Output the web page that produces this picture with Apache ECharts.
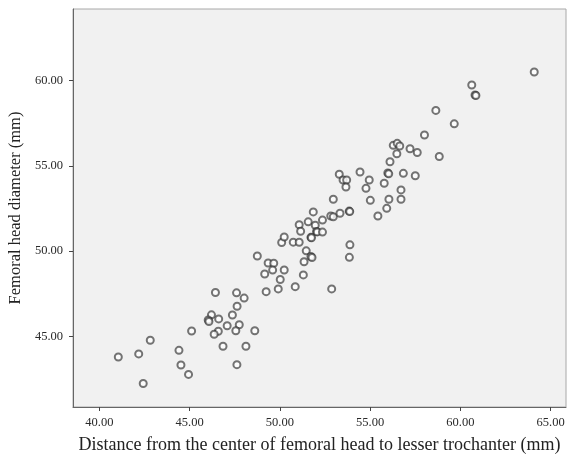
<!DOCTYPE html>
<html>
<head>
<meta charset="utf-8">
<script src="https://cdn.jsdelivr.net/npm/echarts@6/dist/echarts.min.js"></script>
<style>
html,body{margin:0;padding:0;background:#fff;}
#c{width:568px;height:457px;}
</style>
</head>
<body>
<div id="c"></div>
<script>
const xTickValues = [40, 45, 50, 55, 60, 65];
const yTickValues = [45, 50, 55, 60];

const distanceMm = [
  41.05, 42.18, 42.82, 42.43, 44.41, 44.52, 44.94, 45.11, 46.43, 47.60,
  48.02, 47.63, 47.37, 46.21, 46.03, 46.07, 46.61, 47.08, 47.75, 47.56,
  48.61, 46.59, 46.36, 46.85, 48.12, 47.62, 48.75, 49.35, 49.66, 49.60,
  50.24, 49.16, 50.02, 49.91, 49.24, 50.85, 51.30, 52.87, 50.10, 50.24,
  50.74, 51.07, 51.46, 51.72, 51.78, 51.34, 51.07, 51.57, 51.96, 51.15,
  52.03, 52.07, 52.36, 51.72, 51.75, 52.36, 51.85, 52.82, 52.96, 53.33,
  53.84, 53.87, 53.88, 53.85, 52.96, 53.29, 53.50, 53.70, 53.66, 54.44,
  54.95, 54.77, 55.01, 55.43, 55.92, 56.04, 56.71, 56.71, 55.78, 55.98,
  56.03, 56.84, 57.50, 56.10, 56.48, 56.28, 56.50, 56.64, 57.21, 57.61,
  58.83, 58.01, 59.66, 58.64, 60.63, 60.81, 60.86, 64.09
];
const headDiameterMm = [
  43.80, 43.98, 44.78, 42.25, 44.19, 43.33, 42.78, 45.32, 47.58, 47.56,
  47.25, 46.77, 46.26, 46.27, 45.97, 45.88, 46.03, 45.63, 45.69, 45.34,
  45.34, 45.31, 45.13, 44.43, 44.43, 43.35, 49.72, 49.31, 49.29, 48.89,
  48.90, 48.66, 48.34, 47.79, 47.63, 47.92, 48.61, 47.79, 50.51, 50.83,
  50.53, 50.52, 50.02, 49.69, 49.63, 49.38, 51.55, 51.72, 51.52, 51.17,
  51.15, 51.13, 51.12, 50.81, 50.79, 51.82, 52.30, 52.06, 52.02, 52.22,
  52.35, 52.32, 50.37, 49.64, 53.04, 54.51, 54.17, 54.17, 53.76, 54.64,
  54.17, 53.68, 52.98, 52.06, 52.51, 53.04, 53.04, 53.59, 53.98, 54.58,
  54.53, 54.56, 54.42, 55.24, 55.71, 56.20, 56.32, 56.16, 56.00, 55.78,
  55.55, 56.81, 57.46, 58.25, 59.74, 59.15, 59.12, 60.50
];

const points = distanceMm.map((x, i) => [x, headDiameterMm[i]]);

const font = '"Liberation Serif", "DejaVu Serif", serif';
const chart = echarts.init(document.getElementById('c'), null, {renderer: 'canvas'});
chart.setOption({
  animation: false,
  backgroundColor: '#ffffff',
  grid: {
    left: 73, right: 2, top: 9, bottom: 50,
    outerBoundsMode: 'none',
    containLabel: false,
    show: true, backgroundColor: '#f1f1f1', borderColor: '#a8a8a8', borderWidth: 1
  },
  xAxis: {
    type: 'value',
    min: 38.54, max: 65.85,
    name: 'Distance from the center of femoral head to lesser trochanter (mm)',
    nameLocation: 'middle', nameGap: 29,
    nameTextStyle: {fontFamily: font, fontSize: 18, color: '#222'},
    axisLine: {show: true, lineStyle: {color: '#666', width: 1}},
    axisTick: {show: true, length: 4, lineStyle: {color: '#444'}, customValues: xTickValues},
    axisLabel: {
      fontFamily: font, fontSize: 12.5, color: '#2a2a2a', margin: 9,
      customValues: xTickValues,
      formatter: v => v.toFixed(2)
    },
    splitLine: {show: false}
  },
  yAxis: {
    type: 'value',
    min: 40.87, max: 64.19,
    name: 'Femoral head diameter (mm)',
    nameLocation: 'middle', nameGap: 48,
    nameTextStyle: {fontFamily: font, fontSize: 16.5, color: '#222'},
    axisLine: {show: true, lineStyle: {color: '#666', width: 1}},
    axisTick: {show: true, length: 4, lineStyle: {color: '#444'}, customValues: yTickValues},
    axisLabel: {
      fontFamily: font, fontSize: 12.5, color: '#2a2a2a', margin: 10,
      customValues: yTickValues,
      formatter: v => v.toFixed(2)
    },
    splitLine: {show: false}
  },
  series: [{
    type: 'scatter',
    data: points,
    symbol: 'emptyCircle',
    symbolSize: 7,
    itemStyle: {color: 'rgba(40,40,40,0.8)', borderColor: 'rgba(40,40,40,0.8)', borderWidth: 1.5}
  }]
});
</script>
</body>
</html>
